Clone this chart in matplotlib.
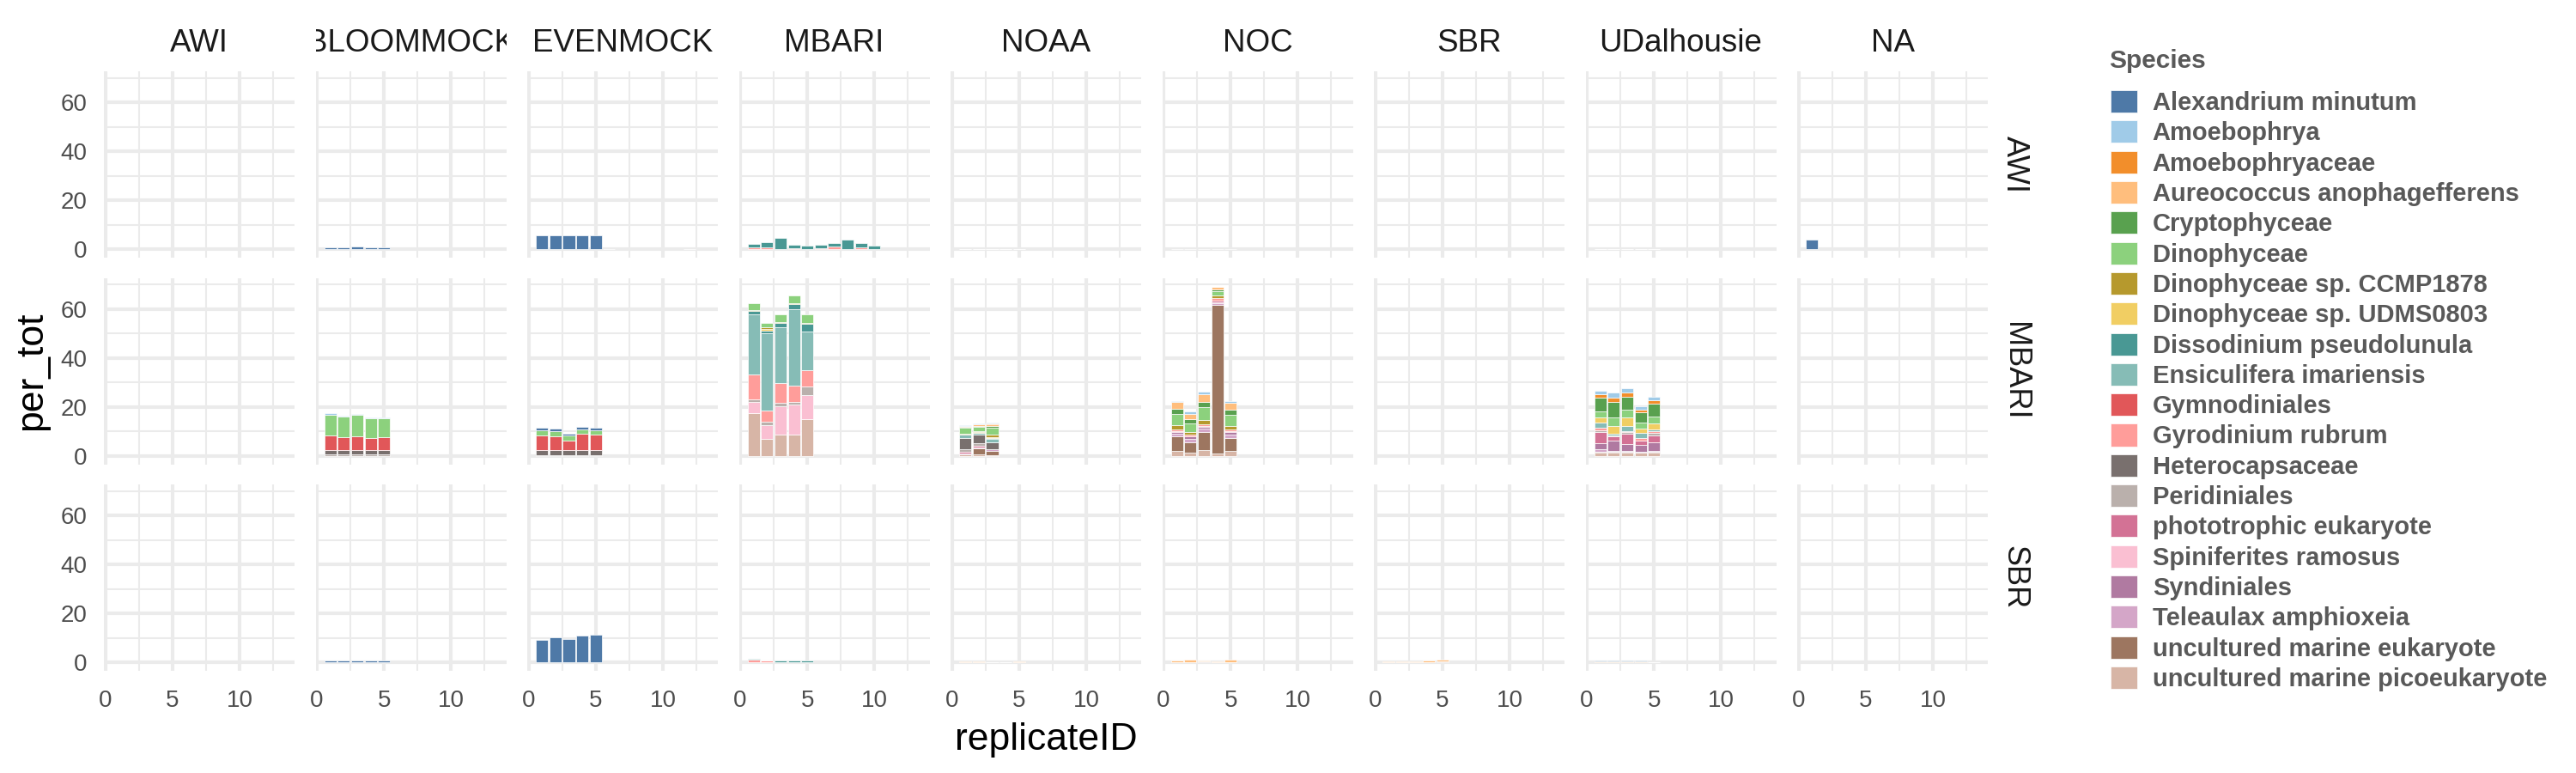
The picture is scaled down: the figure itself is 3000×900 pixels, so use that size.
import numpy as np
import matplotlib.pyplot as plt
from matplotlib.patches import Patch

plt.rcParams['font.family'] = ['Liberation Sans', 'DejaVu Sans']

species = ['Alexandrium minutum', 'Amoebophrya', 'Amoebophryaceae',
           'Aureococcus anophagefferens', 'Cryptophyceae', 'Dinophyceae',
           'Dinophyceae sp. CCMP1878', 'Dinophyceae sp. UDMS0803',
           'Dissodinium pseudolunula', 'Ensiculifera imariensis', 'Gymnodiniales',
           'Gyrodinium rubrum', 'Heterocapsaceae', 'Peridiniales',
           'phototrophic eukaryote', 'Spiniferites ramosus', 'Syndiniales',
           'Teleaulax amphioxeia', 'uncultured marine eukaryote',
           'uncultured marine picoeukaryote']
species_colors = ['#4E79A7', '#A0CBE8', '#F28E2B', '#FFBE7D', '#59A14F', '#8CD17D',
                  '#B6992D', '#F1CE63', '#499894', '#86BCB6', '#E15759', '#FF9D9A',
                  '#79706E', '#BAB0AC', '#D37295', '#FABFD2', '#B07AA1', '#D4A6C8',
                  '#9D7660', '#D7B5A6']

row_labs = ['AWI', 'MBARI', 'SBR']
col_labs = ['AWI', 'BLOOMMOCK', 'EVENMOCK', 'MBARI', 'NOAA', 'NOC', 'SBR', 'UDalhousie', 'NA']

# ---- row AWI ----
awi_bloom_reps = [1, 2, 3, 4, 5]
awi_bloom = {'Alexandrium minutum': [0.9, 0.9, 1.0, 0.9, 0.9]}

awi_even_reps = [1, 2, 3, 4, 5, 6, 12]
awi_even = {'Alexandrium minutum': [5.8, 5.7, 5.6, 5.8, 5.7, 0.1, 0.1]}

awi_mbari_reps = [1, 2, 3, 4, 5, 6, 7, 8, 9, 10]
awi_mbari = {'Gyrodinium rubrum': [0.6, 0.8, 0.1, 0.5, 0.2, 0.5, 1.0, 0.1, 0.8, 0.1],
             'Dissodinium pseudolunula': [1.4, 2.1, 4.4, 1.4, 1.1, 1.25, 1.45, 3.9, 1.65, 1.3]}

awi_noaa_reps = [1, 2, 3, 4, 5]
awi_noaa = {'Peridiniales': [0.1, 0.1, 0.1, 0.1, 0.1],
            'Aureococcus anophagefferens': [0.1, 0.1, 0.1, 0.1, 0.1]}

awi_noc_reps = [1, 2, 3, 4, 5]
awi_noc = {'Aureococcus anophagefferens': [0.2, 0.2, 0.2, 0.2, 0.2]}

awi_udal_reps = [1, 2, 3, 4, 5]
awi_udal = {'Peridiniales': [0.1, 0.1, 0.1, 0.1, 0.1],
            'Aureococcus anophagefferens': [0.1, 0.1, 0.1, 0.1, 0.1]}

awi_na_reps = [1]
awi_na = {'Alexandrium minutum': [4.0]}

# ---- row MBARI ----
mbari_bloom_reps = [1, 2, 3, 4, 5]
mbari_bloom = {'Heterocapsaceae': [2.0, 2.0, 2.0, 2.0, 2.0],
               'Peridiniales': [0.5, 0.5, 0.5, 0.5, 0.5],
               'Gymnodiniales': [5.9, 5.1, 5.6, 4.7, 5.0],
               'Dinophyceae': [8.4, 8.4, 8.5, 8.2, 7.8],
               'Amoebophrya': [0.6, 0.5, 0.3, 0.4, 0.5]}

mbari_even_reps = [1, 2, 3, 4, 5]
mbari_even = {'Heterocapsaceae': [2.2, 2.2, 2.2, 2.2, 2.2],
              'Peridiniales': [0.3, 0.3, 0.3, 0.3, 0.3],
              'Gymnodiniales': [5.9, 5.6, 3.6, 6.5, 6.1],
              'Dinophyceae': [1.9, 1.8, 2.1, 1.7, 1.9],
              'Alexandrium minutum': [1.1, 1.1, 0.7, 1.2, 0.9]}

mbari_mbari_reps = [1, 2, 3, 4, 5]
mbari_mbari = {'uncultured marine picoeukaryote': [17.3, 6.8, 8.5, 8.5, 15.0],
               'Spiniferites ramosus': [4.7, 5.8, 11.7, 12.3, 9.9],
               'Peridiniales': [1.2, 1.2, 1.4, 1.2, 3.5],
               'Gyrodinium rubrum': [9.9, 4.7, 8.0, 6.7, 6.5],
               'Ensiculifera imariensis': [24.6, 31.7, 22.8, 31.3, 15.7],
               'Dissodinium pseudolunula': [1.4, 1.0, 2.0, 1.8, 3.2],
               'Dinophyceae sp. UDMS0803': [0.0, 0.6, 0.0, 0.0, 0.0],
               'Dinophyceae sp. CCMP1878': [0.3, 0.6, 0.3, 0.5, 0.4],
               'Dinophyceae': [2.9, 1.8, 3.0, 3.0, 3.5]}

mbari_noaa_reps = [1, 2, 3]
mbari_noaa = {'uncultured marine picoeukaryote': [0.6, 0.6, 0.4],
              'uncultured marine eukaryote': [0.0, 2.3, 1.6],
              'Teleaulax amphioxeia': [0.0, 0.5, 0.7],
              'Syndiniales': [0.4, 0.0, 0.0],
              'phototrophic eukaryote': [0.5, 0.8, 0.0],
              'Peridiniales': [1.2, 1.1, 0.0],
              'Heterocapsaceae': [4.7, 3.2, 2.9],
              'Ensiculifera imariensis': [1.1, 0.9, 1.3],
              'Dissodinium pseudolunula': [0.3, 0.0, 0.5],
              'Dinophyceae sp. UDMS0803': [0.0, 0.3, 0.3],
              'Dinophyceae sp. CCMP1878': [0.2, 0.3, 0.8],
              'Dinophyceae': [2.5, 1.7, 3.0],
              'Cryptophyceae': [0.4, 0.5, 0.8],
              'Aureococcus anophagefferens': [0.4, 0.6, 0.5],
              'Amoebophryaceae': [0.0, 0.0, 0.3],
              'Amoebophrya': [0.3, 0.4, 0.4]}

mbari_noc_reps = [1, 2, 3, 4, 5]
mbari_noc = {'uncultured marine picoeukaryote': [2.0, 1.4, 2.3, 0.8, 2.0],
             'uncultured marine eukaryote': [5.8, 4.1, 7.3, 60.7, 5.2],
             'Teleaulax amphioxeia': [1.2, 1.4, 1.5, 0.8, 1.4],
             'Syndiniales': [0.8, 0.9, 0.8, 0.5, 1.0],
             'phototrophic eukaryote': [0.3, 0.3, 0.4, 0.4, 0.6],
             'Gyrodinium rubrum': [0.6, 0.5, 0.5, 1.2, 0.5],
             'Dinophyceae sp. CCMP1878': [1.8, 1.2, 1.7, 0.9, 1.4],
             'Dinophyceae': [4.7, 3.5, 5.3, 2.0, 4.5],
             'Cryptophyceae': [1.9, 1.5, 2.0, 0.6, 2.3],
             'Aureococcus anophagefferens': [2.7, 2.4, 3.5, 0.9, 2.6],
             'Amoebophrya': [0.6, 0.8, 0.8, 0.3, 0.7]}

mbari_udal_reps = [1, 2, 3, 4, 5]
mbari_udal = {'uncultured marine picoeukaryote': [1.2, 1.2, 1.2, 1.2, 1.2],
              'uncultured marine eukaryote': [0.4, 0.3, 0.3, 0.2, 0.3],
              'Teleaulax amphioxeia': [1.0, 0.5, 0.5, 0.2, 0.5],
              'Syndiniales': [2.5, 4.1, 2.9, 2.7, 3.5],
              'phototrophic eukaryote': [4.5, 1.7, 4.1, 1.8, 2.9],
              'Peridiniales': [0.9, 0.4, 0.6, 0.0, 0.8],
              'Gyrodinium rubrum': [0.8, 0.0, 0.6, 1.1, 0.9],
              'Ensiculifera imariensis': [2.4, 0.8, 1.9, 2.1, 0.6],
              'Dinophyceae sp. UDMS0803': [1.9, 3.1, 3.5, 1.7, 2.6],
              'Dinophyceae': [2.4, 3.5, 3.3, 2.7, 2.7],
              'Cryptophyceae': [5.6, 6.2, 5.3, 4.0, 5.2],
              'Amoebophryaceae': [1.4, 1.8, 1.7, 1.2, 1.4],
              'Amoebophrya': [1.7, 2.1, 1.8, 1.4, 1.6]}

# ---- row SBR ----
sbr_bloom_reps = [1, 2, 3, 4, 5]
sbr_bloom = {'Alexandrium minutum': [0.6, 0.6, 0.7, 0.6, 0.7]}

sbr_even_reps = [1, 2, 3, 4, 5]
sbr_even = {'Alexandrium minutum': [9.3, 10.2, 9.6, 10.9, 11.2]}

sbr_mbari_reps = [1, 2, 3, 4, 5]
sbr_mbari = {'Gyrodinium rubrum': [1.0, 0.6, 0.2, 0.2, 0.2],
             'Dissodinium pseudolunula': [0.5, 0.2, 0.6, 0.6, 0.5]}

sbr_noaa_reps = [1, 2, 3, 4, 5]
sbr_noaa = {'Peridiniales': [0.2, 0.2, 0.1, 0.1, 0.2],
            'Aureococcus anophagefferens': [0.1, 0.1, 0.1, 0.1, 0.1]}

sbr_noc_reps = [1, 2, 3, 4, 5]
sbr_noc = {'Peridiniales': [0.1, 0.1, 0.3, 0.1, 0.1],
           'Aureococcus anophagefferens': [0.8, 0.9, 0.6, 0.4, 1.0]}

sbr_sbr_reps = [1, 2, 3, 4, 5]
sbr_sbr = {'Peridiniales': [0.1, 0.1, 0.1, 0.2, 0.3],
           'Aureococcus anophagefferens': [0.2, 0.4, 0.4, 0.7, 0.7]}

sbr_udal_reps = [1, 2, 3, 4, 5]
sbr_udal = {'Aureococcus anophagefferens': [0.4, 0.4, 0.4, 0.4, 0.2],
            'Alexandrium minutum': [0.2, 0.2, 0.3, 0.2, 0.0]}

panels = {
    ('AWI', 'BLOOMMOCK'): (awi_bloom_reps, awi_bloom),
    ('AWI', 'EVENMOCK'): (awi_even_reps, awi_even),
    ('AWI', 'MBARI'): (awi_mbari_reps, awi_mbari),
    ('AWI', 'NOAA'): (awi_noaa_reps, awi_noaa),
    ('AWI', 'NOC'): (awi_noc_reps, awi_noc),
    ('AWI', 'UDalhousie'): (awi_udal_reps, awi_udal),
    ('AWI', 'NA'): (awi_na_reps, awi_na),
    ('MBARI', 'BLOOMMOCK'): (mbari_bloom_reps, mbari_bloom),
    ('MBARI', 'EVENMOCK'): (mbari_even_reps, mbari_even),
    ('MBARI', 'MBARI'): (mbari_mbari_reps, mbari_mbari),
    ('MBARI', 'NOAA'): (mbari_noaa_reps, mbari_noaa),
    ('MBARI', 'NOC'): (mbari_noc_reps, mbari_noc),
    ('MBARI', 'UDalhousie'): (mbari_udal_reps, mbari_udal),
    ('SBR', 'BLOOMMOCK'): (sbr_bloom_reps, sbr_bloom),
    ('SBR', 'EVENMOCK'): (sbr_even_reps, sbr_even),
    ('SBR', 'MBARI'): (sbr_mbari_reps, sbr_mbari),
    ('SBR', 'NOAA'): (sbr_noaa_reps, sbr_noaa),
    ('SBR', 'NOC'): (sbr_noc_reps, sbr_noc),
    ('SBR', 'SBR'): (sbr_sbr_reps, sbr_sbr),
    ('SBR', 'UDalhousie'): (sbr_udal_reps, sbr_udal),
}

color_of = dict(zip(species, species_colors))

W, H = 3000.0, 900.0
fig = plt.figure(figsize=(30, 9), dpi=100)

for r, rl in enumerate(row_labs):
    for c, cl in enumerate(col_labs):
        x0 = 121 + 246.5 * c
        y0 = 83 + 240.5 * r
        ax = fig.add_axes([x0 / W, 1 - (y0 + 217) / H, 222 / W, 217 / H])
        ax.set_axisbelow(True)
        if (rl, cl) in panels:
            reps, data = panels[(rl, cl)]
            bottom = np.zeros(len(reps))
            # ggplot stacks the first level on top
            for sp in reversed(species):
                if sp in data:
                    v = np.array(data[sp], dtype=float)
                    ax.bar(reps, v, bottom=bottom, width=0.9, color=color_of[sp],
                           edgecolor='white', linewidth=0.5)
                    bottom += v
        ax.set_xlim(-0.1, 14.1)
        ax.set_ylim(-3.45, 72.65)
        ax.set_xticks([0, 5, 10])
        ax.set_xticks([2.5, 7.5, 12.5], minor=True)
        ax.set_yticks([0, 20, 40, 60])
        ax.set_yticks([10, 30, 50, 70], minor=True)
        ax.grid(which='major', color='#EBEBEB', linewidth=3.0)
        ax.grid(which='minor', color='#EBEBEB', linewidth=1.5)
        for s in ax.spines.values():
            s.set_visible(False)
        ax.tick_params(which='both', length=0, labelsize=20, labelcolor='#4D4D4D')
        ax.tick_params(axis='y', pad=14)
        ax.tick_params(axis='x', pad=16)
        ax.tick_params(labelleft=(c == 0), labelbottom=(r == len(row_labs) - 1))

        if r == 0:
            sax = fig.add_axes([x0 / W, 1 - 80 / H, 222 / W, 65 / H])
            sax.axis('off')
            sax.text(0.5, 0.45, cl, ha='center', va='center', fontsize=26.5,
                     color='#1A1A1A', clip_on=True, transform=sax.transAxes)
        if c == len(col_labs) - 1:
            fig.text(2346 / W, 1 - (y0 + 108.5) / H, rl, rotation=-90, ha='center',
                     va='center', fontsize=26, color='#1A1A1A')

fig.text(1218 / W, 1 - 862 / H, 'replicateID', ha='center', va='center', fontsize=32)
fig.text(37 / W, 1 - 432 / H, 'per_tot', rotation=90, ha='center', va='center', fontsize=32)

handles = [Patch(facecolor=col, edgecolor='white', linewidth=0.5) for col in species_colors]
leg = fig.legend(handles, species, loc='upper left', bbox_to_anchor=(2458 / W, 1 - 105 / H),
                 frameon=False, prop={'size': 21, 'weight': 'bold'},
                 handlelength=1.05, handleheight=1.0, handletextpad=0.62,
                 labelspacing=0.215, borderpad=0, borderaxespad=0)
for t in leg.get_texts():
    t.set_color('#595959')
fig.text(2456 / W, 1 - 71 / H, 'Species', ha='left', va='center', fontsize=21.5,
         fontweight='bold', color='#595959')

fig.savefig('out.png', dpi=100)
